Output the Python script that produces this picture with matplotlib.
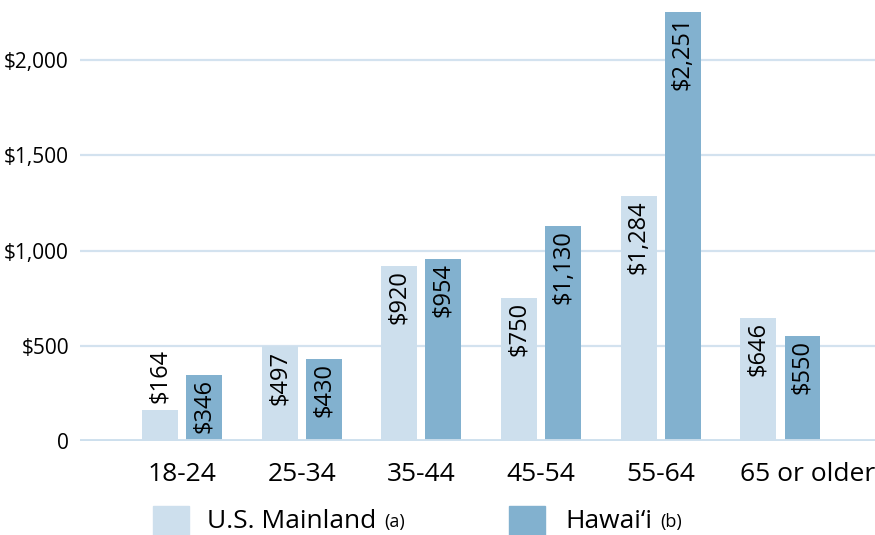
import matplotlib
matplotlib.use("Agg")
import matplotlib.pyplot as plt
from matplotlib.patches import Rectangle
import numpy as np

plt.rcParams['font.family'] = ['Open Sans', 'DejaVu Sans']

age_groups = ["18-24", "25-34", "35-44", "45-54", "55-64", "65 or older"]
mainland = [164, 497, 920, 750, 1284, 646]
hawaii = [346, 430, 954, 1130, 2251, 550]
y_ticks = [0, 500, 1000, 1500, 2000]
y_tick_labels = ["0", "$500", "$1,000", "$1,500", "$2,000"]

light = "#cddfed"
dark = "#82b1cf"
grid_c = "#d3e2ef"

fig = plt.figure(figsize=(8.75, 5.35), dpi=100)
ax = fig.add_axes([80 / 875, 94 / 535, 795 / 875, 441 / 535])

x = np.arange(len(age_groups))
w = 0.30
gap = 0.034
ax.set_xlim(-0.852, 5.79)
ax.set_ylim(0, 2315)

for yv in y_ticks[1:]:
    ax.axhline(yv, color=grid_c, lw=1.6, zorder=0)
ax.axhline(0, color=light, lw=3.5, zorder=3)

b1 = ax.bar(x - w / 2 - gap, mainland, w, color=light, zorder=2)
b2 = ax.bar(x + w / 2 + gap, hawaii, w, color=dark, zorder=2)

def label(bars, vals):
    for r, v in zip(bars, vals):
        cx = r.get_x() + r.get_width() / 2
        txt = f"${v:,}"
        if v < 300:
            ax.annotate(txt, (cx, v), xytext=(0, 5), textcoords="offset points",
                        rotation=90, ha="center", va="bottom", fontsize=17, zorder=4)
        else:
            ax.annotate(txt, (cx, v), xytext=(0, -3), textcoords="offset points",
                        rotation=90, ha="center", va="top", fontsize=17, zorder=4)

label(b1, mainland)
label(b2, hawaii)

ax.set_yticks(y_ticks)
ax.set_yticklabels(y_tick_labels, fontsize=15)

# the long last category label starts at the left edge of its group
tick_pos = list(x[:-1]) + [b1[-1].get_x()]
ax.set_xticks(tick_pos)
ax.set_xticklabels(age_groups, fontsize=19)
ax.get_xticklabels()[-1].set_horizontalalignment("left")
ax.tick_params(axis="both", length=0)
ax.tick_params(axis="y", pad=8)
ax.tick_params(axis="x", pad=15)
for s in ax.spines.values():
    s.set_visible(False)

# legend
fig.add_artist(Rectangle((153 / 875, 0), 36 / 875, 29 / 535, transform=fig.transFigure,
                         color=light, clip_on=False))
fig.add_artist(Rectangle((509 / 875, 0), 36 / 875, 29 / 535, transform=fig.transFigure,
                         color=dark, clip_on=False))
t1 = fig.text(207 / 875, 13 / 535, "U.S. Mainland", fontsize=19, va="center", ha="left")
t2 = fig.text(565 / 875, 13 / 535, "Hawai\u2018i", fontsize=19, va="center", ha="left")
fig.canvas.draw()
r = fig.canvas.get_renderer()
for t, sub in ((t1, "(a)"), (t2, "(b)")):
    bb = t.get_window_extent(r)
    fig.text(bb.x1 / 875 + 8 / 875, bb.y0 / 535 + 3 / 535, sub, fontsize=13, va="bottom", ha="left")

fig.savefig("out.png", dpi=100)
